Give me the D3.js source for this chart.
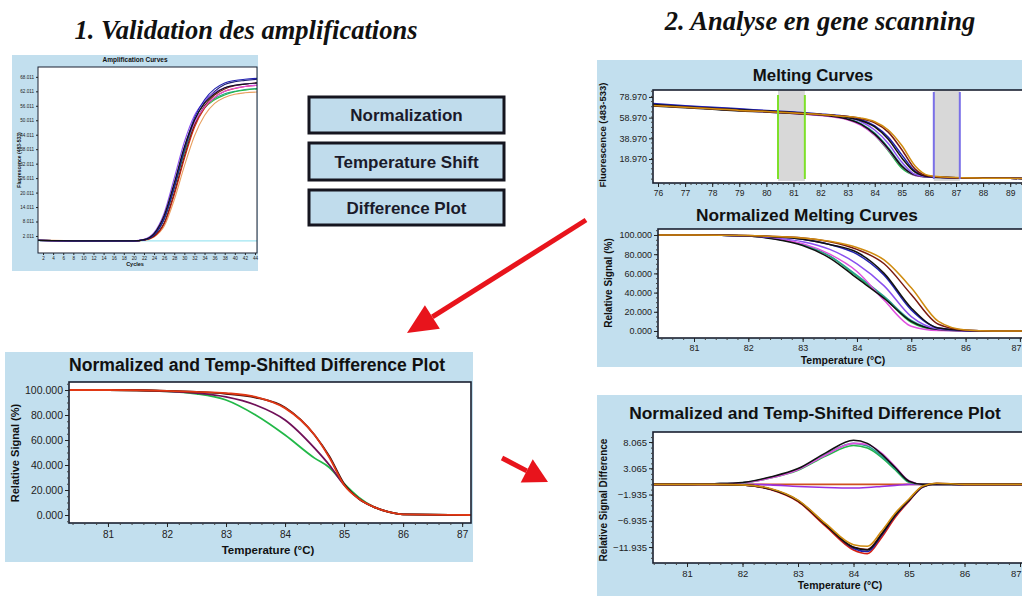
<!DOCTYPE html>
<html><head><meta charset="utf-8">
<script src="https://cdn.jsdelivr.net/npm/d3@7"></script>
<style>
body{margin:0;background:#fff}
svg{display:block}
text{font-family:"Liberation Sans",Arial,sans-serif}
</style>
</head><body>
<svg id="c" width="1022" height="596"></svg>
<script>
// ---------------- DATA ----------------
// 1. Amplification curves
const ampCycles = [1, 10, 20, 22, 24, 26, 28, 30, 32, 34, 36, 38, 40, 42, 44.4];
const ampBlack   = [0.2, 0, 0, 0.5, 3.0, 10.5, 24, 39, 50, 57, 61, 63.5, 64.5, 65, 65.5];
const ampBlue    = [0.2, 0, 0, 0.4, 2.6, 9.5, 23, 38.5, 51, 58.5, 63, 65.5, 66.5, 67, 67.4];
const ampNavy    = [0.2, 0, 0, 0.4, 2.4, 9.0, 22, 37.5, 50, 57.5, 62, 64.8, 66, 66.5, 67];
const ampPurple  = [0.2, 0, 0, 0.6, 3.4, 11.5, 26, 41, 52, 58, 61.5, 63.5, 64.5, 65, 65.3];
const ampBrown   = [0.2, 0, 0, 0.3, 2.0, 7.5, 20, 35, 48, 56, 60.5, 63, 64.3, 65, 65.5];
const ampRed     = [0.2, 0, 0, 0.3, 1.8, 7.0, 19, 34, 47, 55, 59.5, 62, 63.2, 64, 64.5];
const ampGreen   = [0.2, 0, 0, 0.4, 2.5, 9.0, 22, 36.5, 48, 55, 58.5, 60.5, 61.8, 62.5, 63];
const ampTeal    = [0.2, 0, 0, 0.4, 2.6, 9.2, 22.5, 37, 48.5, 55.5, 59, 61, 62, 62.8, 63.2];
const ampOrange  = [0.3, 0, 0, 0.2, 1.6, 6.0, 17, 31, 43.5, 52, 57, 59.5, 60.8, 61.4, 61.7];
const ampMagenta = [0.2, 0, 0, 0.5, 3.0, 10, 23.5, 38, 49, 55.5, 59.5, 62, 63.3, 64, 64.5];
const ampThreshold = 0;
const ampXTicks = [2,4,6,8,10,12,14,16,18,20,22,24,26,28,30,32,34,36,38,40,42,44];
const ampYTicks = [2.011, 8.011, 14.011, 20.011, 26.011, 32.011, 38.011, 44.011, 50.011, 56.011, 62.011, 68.011];

// 2a. Melting curves (fluorescence 483-533)
const meltTemps = [75.6, 77, 78, 79, 80, 81, 82, 82.5, 83, 83.5, 84, 84.5, 85, 85.5, 86, 87, 88, 89, 90.2];
const meltBlack   = [72, 69.5, 68, 66.5, 65.5, 64, 62, 61, 59, 56, 50, 38, 20, 6, 2, 0.8, 0.5, 0.3, 0.2];
const meltBlue    = [73, 70.5, 69, 67.5, 66, 64.5, 62.5, 61.5, 60, 57, 51, 40, 23, 7, 2, 0.8, 0.5, 0.3, 0.2];
const meltDarkRed = [71, 69, 67.5, 66, 65, 63.5, 62, 61, 60, 58, 54, 45, 28, 9, 2.5, 0.8, 0.5, 0.3, 0.2];
const meltOrange  = [71, 69, 67.5, 66, 65, 63.5, 62, 61, 60, 58.5, 55, 47, 32, 12, 3, 1, 0.5, 0.3, 0.2];
const meltGreen   = [71.5, 69.5, 68, 66.5, 65, 63.5, 61.5, 60, 57.5, 52, 42, 27, 10, 3, 1.5, 0.8, 0.5, 0.3, 0.2];
const meltMagenta = [71, 69, 67.5, 66, 64.5, 63, 61, 59.5, 57, 51.5, 42, 28, 12, 3, 1.5, 0.8, 0.5, 0.3, 0.2];
const meltViolet  = [72, 70, 68.5, 67, 65.5, 64, 62, 61, 59, 55, 47, 34, 16, 4, 1.8, 0.8, 0.5, 0.3, 0.2];
const meltTeal    = [71.5, 69.5, 68, 66.5, 65, 63.5, 61.5, 60.5, 58, 53, 44, 30, 13, 3.5, 1.5, 0.8, 0.5, 0.3, 0.2];
const meltBlack2  = [70.5, 68.5, 67, 65.5, 64.5, 63, 61.5, 60, 57.5, 52.5, 43, 29, 12, 3.5, 1.5, 0.8, 0.5, 0.3, 0.2];
const meltXTicks = [76,77,78,79,80,81,82,83,84,85,86,87,88,89];
const meltYTicks = [18.97, 38.97, 58.97, 78.97];
const preMeltRegion  = [80.43, 81.42];
const postMeltRegion = [86.18, 87.14];

// 2b. Normalized melting curves (relative signal %)
const normTemps = [80.3, 81, 82, 82.5, 83, 83.5, 84, 84.5, 85, 85.5, 86, 86.5, 87.4];
const normOrange  = [100, 100, 99.5, 98.5, 97, 93.5, 87, 74, 45, 10, 1, 0, 0];
const normBrown   = [100, 100, 99.5, 98.5, 97, 93, 85, 70, 38, 7, 0.8, 0, 0];
const normBlue    = [100, 100, 99.3, 98, 95.5, 90, 80, 58, 22, 3, 0.5, 0, 0];
const normBlack   = [100, 100, 99.3, 98, 95.5, 90, 82, 60, 24, 3, 0.5, 0, 0];
const normViolet  = [100, 100, 99, 97, 93, 85, 70, 47, 15, 2, 0.3, 0, 0];
const normMagenta = [100, 100, 99, 96, 91, 80, 62, 32, 5, 0.5, 0, 0, 0];
const normGreen   = [100, 100, 99, 96, 90, 78, 57, 35, 9, 1, 0.2, 0, 0];
const normBlack2  = [100, 100, 99, 95.5, 89, 76, 55, 34, 10, 1.5, 0.3, 0, 0];
const normTeal    = [100, 100, 99, 96, 90, 78, 58, 36, 11, 1.5, 0.3, 0, 0];
const relXTicks = [81,82,83,84,85,86,87];
const relYTicks = [0, 20, 40, 60, 80, 100];

// 3. Normalized and temp-shifted curves (lower left)
const shiftTemps = [80.3, 81, 82, 82.5, 83, 83.5, 84, 84.5, 84.75, 85, 85.25, 85.5, 85.75, 86, 87.2];
const shiftGreen   = [100, 100, 99, 97, 92, 80, 64, 45.5, 38, 25, 14, 6.5, 2.5, 0.5, 0];
const shiftPurple  = [100, 100, 99, 97.5, 94.5, 88, 76, 53.5, 40, 24, 13, 6.5, 2.5, 0.5, 0];
const shiftDarkRed = [100, 100, 99.3, 98.5, 97, 94, 86, 64, 47, 25, 13, 6.5, 2.5, 0.5, 0];
const shiftRed     = [100, 100, 99.3, 98.5, 97.5, 94.5, 85.5, 64, 46, 24, 13, 6.5, 2.5, 0.5, 0];

// 4. Difference plot (lower right)
const diffTemps = [80.4, 81, 81.5, 82, 82.5, 83, 83.5, 84, 84.25, 84.5, 84.75, 85, 85.25, 85.5, 86, 87.4];
const diffGreen   = [0, 0, 0.1, 0.3, 1.2, 2.7, 5.4, 7.4, 6.9, 5.2, 2.8, 0.4, 0, 0, 0, 0];
const diffTeal    = [0, 0, 0.1, 0.3, 1.3, 2.9, 5.7, 7.8, 7.3, 5.4, 3.0, 0.5, 0, 0, 0, 0];
const diffBlackUp = [0, 0, 0.1, 0.35, 1.4, 3.0, 6.0, 8.4, 7.8, 5.8, 3.2, 0.6, 0, 0, 0, 0];
const diffMagenta = [0, 0, 0.1, 0.3, 1.2, 2.8, 5.6, 7.8, 7.6, 6.0, 3.4, 0.7, 0, 0, 0, 0];
const diffPurple  = [0, 0, 0, 0, -0.1, -0.4, -0.6, -0.7, -0.6, -0.4, -0.2, 0, 0, 0, 0, 0];
const diffOrange  = [0, 0, 0, -0.1, -0.8, -3.0, -7.5, -11.5, -11.8, -9.0, -5.5, -2.8, -0.3, 0.2, 0, 0];
const diffBrown   = [0, 0, 0, -0.1, -0.9, -3.2, -7.8, -12.0, -12.4, -9.5, -5.8, -3.0, -0.4, 0.2, 0, 0];
const diffBlue    = [0, 0, 0, -0.1, -0.9, -3.1, -7.7, -12.2, -12.8, -9.8, -6.0, -3.1, -0.5, 0.1, 0, 0];
const diffRed     = [0, 0, 0, -0.1, -1.0, -3.3, -8.0, -12.5, -13.2, -10.2, -6.3, -3.2, -0.5, 0.1, 0, 0];
const diffBlackDn = [0, 0, 0, -0.1, -0.9, -3.1, -7.7, -12.0, -12.5, -9.6, -5.9, -3.0, -0.4, 0.1, 0, 0];
const diffRef     = [0, 0, 0, 0, 0, 0, 0, 0, 0, 0, 0, 0, 0, 0, 0, 0];
const diffYTicks = [-11.935, -6.935, -1.935, 3.065, 8.065];

const stepLabels = ["Normalization", "Temperature Shift", "Difference Plot"];

// ---------------- DRAWING ----------------
const W = 1022;
const svg = d3.select("#c");
const PANEL = "#c2dfee";
const C = {black:"#111111", blue:"#2020b0", navy:"#1c1c70", purple:"#80209a", brown:"#7a1a10",
  red:"#d82010", green:"#22b848", teal:"#2aa090", orange:"#d08c10", magenta:"#e050e0", violet:"#8a50f0",
  darkred:"#3a0c0c"};
let clipId = 0;

function chart(o){
  const g = svg.append("g");
  const x = d3.scaleLinear().domain(o.xd).range([o.l, o.r]);
  const y = d3.scaleLinear().domain(o.yd).range([o.b, o.t]);
  g.append("rect").attr("x", o.l).attr("y", o.t).attr("width", o.r - o.l).attr("height", o.b - o.t)
    .attr("fill", "#fff");
  const id = "clip" + (clipId++);
  g.append("clipPath").attr("id", id).append("rect")
    .attr("x", o.l).attr("y", o.t).attr("width", o.r - o.l).attr("height", o.b - o.t);
  const inner = g.append("g").attr("clip-path", `url(#${id})`);
  if (o.under) o.under(inner, x, y);
  const line = d3.line().curve(d3.curveMonotoneX);
  o.series.forEach(s => {
    inner.append("path")
      .attr("d", line(o.xs.map((t, i) => [x(t), y(s.v[i])])))
      .attr("fill", "none").attr("stroke", s.c).attr("stroke-width", o.sw || 1.6)
      .attr("stroke-linejoin", "round");
  });
  if (o.over) o.over(inner, x, y);
  g.append("rect").attr("x", o.l).attr("y", o.t).attr("width", o.r - o.l).attr("height", o.b - o.t)
    .attr("fill", "none").attr("stroke", "#1a2030").attr("stroke-width", o.bw || 1.6);
  if (o.minor !== false) {
    g.append("g").attr("transform", `translate(${o.l},0)`)
      .call(d3.axisLeft(y).ticks(o.minorY || 30).tickSize(2).tickFormat(""))
      .call(a => a.select(".domain").remove())
      .selectAll("line").attr("stroke", "#444");
    g.append("g").attr("transform", `translate(0,${o.b})`)
      .call(d3.axisBottom(x).ticks(o.minorX || 40).tickSize(2).tickFormat(""))
      .call(a => a.select(".domain").remove())
      .selectAll("line").attr("stroke", "#444");
  }
  const ya = g.append("g").attr("transform", `translate(${o.l},0)`)
    .call(d3.axisLeft(y).tickValues(o.yt).tickFormat(o.yf).tickSize(o.ts || 4).tickPadding(2));
  ya.select(".domain").remove();
  ya.selectAll("line").attr("stroke", "#222");
  ya.selectAll("text").attr("font-size", o.yfs).attr("fill", "#222")
    .attr("font-family", '"Liberation Sans",Arial,sans-serif');
  const xa = g.append("g").attr("transform", `translate(0,${o.b})`)
    .call(d3.axisBottom(x).tickValues(o.xt).tickFormat(o.xf || d3.format("d")).tickSize(o.ts || 4).tickPadding(o.xpad || 3));
  xa.select(".domain").remove();
  xa.selectAll("line").attr("stroke", "#222");
  xa.selectAll("text").attr("font-size", o.xfs).attr("fill", "#222")
    .attr("font-family", '"Liberation Sans",Arial,sans-serif')
    .attr("text-anchor", d => (x(d) + 7 > W ? "end" : "middle"))
    .attr("dx", d => (x(d) + 7 > W ? (W - 1 - x(d)) : 0));
  if (o.title) svg.append("text").attr("x", o.title[1]).attr("y", o.title[2]).attr("text-anchor", "middle")
    .attr("font-weight", "bold").attr("font-size", o.title[3]).attr("fill", "#111").text(o.title[0]);
  if (o.xl) svg.append("text").attr("x", o.xl[1]).attr("y", o.xl[2]).attr("text-anchor", "middle")
    .attr("font-weight", "bold").attr("font-size", o.xl[3]).attr("fill", "#111").text(o.xl[0]);
  if (o.yl) svg.append("text").attr("transform", `translate(${o.yl[1]},${o.yl[2]}) rotate(-90)`)
    .attr("text-anchor", "middle").attr("font-weight", "bold").attr("font-size", o.yl[3])
    .attr("fill", "#111").text(o.yl[0]);
  return {x, y};
}

// panels (background)
svg.append("rect").attr("x", 12).attr("y", 55).attr("width", 246).attr("height", 216).attr("fill", PANEL);
svg.append("rect").attr("x", 597).attr("y", 60).attr("width", 440).attr("height", 307).attr("fill", PANEL);
svg.append("rect").attr("x", 5).attr("y", 352).attr("width", 468).attr("height", 210).attr("fill", PANEL);
svg.append("rect").attr("x", 597).attr("y", 395).attr("width", 440).attr("height", 210).attr("fill", PANEL);

// main headings
svg.append("text").attr("x", 246).attr("y", 39).attr("text-anchor", "middle")
  .style("font-family", '"Liberation Serif","Times New Roman",serif').attr("font-style", "italic")
  .attr("font-weight", "bold").attr("font-size", 26.5).attr("fill", "#111").text("1. Validation des amplifications");
svg.append("text").attr("x", 820).attr("y", 30).attr("text-anchor", "middle")
  .style("font-family", '"Liberation Serif","Times New Roman",serif').attr("font-style", "italic")
  .attr("font-weight", "bold").attr("font-size", 26.5).attr("fill", "#111").text("2. Analyse en gene scanning");

// 1. Amplification chart
chart({
  l: 38, r: 257, t: 67, b: 253, xd: [1, 44.4], yd: [-5.05, 72.1],
  xs: ampCycles, sw: 1.1, bw: 1, ts: 2, minor: false,
  series: [
    {v: ampOrange, c: "#e8a060"}, {v: ampTeal, c: C.teal}, {v: ampGreen, c: C.green},
    {v: ampRed, c: C.red}, {v: ampBrown, c: C.brown}, {v: ampMagenta, c: C.magenta},
    {v: ampNavy, c: C.navy}, {v: ampPurple, c: C.violet}, {v: ampBlue, c: C.blue}, {v: ampBlack, c: C.black}
  ],
  under: (g, x, y) => g.append("line").attr("x1", x(1)).attr("x2", x(44.4))
    .attr("y1", y(ampThreshold)).attr("y2", y(ampThreshold)).attr("stroke", "#9fe6f2").attr("stroke-width", 1.2),
  yt: ampYTicks, yf: d3.format(".3f"), yfs: 4.6,
  xt: ampXTicks, xf: d3.format("d"), xfs: 4.6, xpad: 2,
  title: ["Amplification Curves", 135, 62, 6.5],
  xl: ["Cycles", 135, 266, 5.5],
  yl: ["Fluorescence (483-533)", 21, 160, 5]
});

// step boxes
const boxY = [97, 143, 190];
const boxH = [36, 37, 35];
stepLabels.forEach((s, i) => {
  svg.append("rect").attr("x", 309).attr("y", boxY[i]).attr("width", 195).attr("height", boxH[i])
    .attr("fill", "#c0dcec").attr("stroke", "#15151f").attr("stroke-width", 3);
  svg.append("text").attr("x", 406.5).attr("y", boxY[i] + boxH[i] / 2 + 6).attr("text-anchor", "middle")
    .attr("font-weight", "bold").attr("font-size", 17).attr("fill", "#1a1a2a").text(s);
});

// 2a. Melting curves
chart({
  l: 653, r: 1040, t: 90, b: 183, xd: [75.815, 90.1], yd: [-4.2, 85.7],
  xs: meltTemps, sw: 1.5,
  under: (g, x, y) => {
    [preMeltRegion, postMeltRegion].forEach(r => {
      g.append("rect").attr("x", x(r[0])).attr("y", 90).attr("width", x(r[1]) - x(r[0])).attr("height", 91)
        .attr("fill", "#d8d8d8");
    });
  },
  over: (g, x, y) => {
    preMeltRegion.forEach(t => g.append("line").attr("x1", x(t)).attr("x2", x(t)).attr("y1", 95).attr("y2", 179)
      .attr("stroke", "#7ee02a").attr("stroke-width", 2));
    postMeltRegion.forEach(t => g.append("line").attr("x1", x(t)).attr("x2", x(t)).attr("y1", 92).attr("y2", 179)
      .attr("stroke", "#7a70e8").attr("stroke-width", 2));
  },
  series: [
    {v: meltGreen, c: C.green}, {v: meltTeal, c: C.teal}, {v: meltMagenta, c: C.magenta},
    {v: meltBlack2, c: C.black}, {v: meltViolet, c: C.violet}, {v: meltBlue, c: C.blue},
    {v: meltBlack, c: C.black}, {v: meltDarkRed, c: C.brown}, {v: meltOrange, c: C.orange}
  ],
  yt: meltYTicks, yf: d3.format(".3f"), yfs: 9,
  xt: meltXTicks, xfs: 8.5, xpad: 3, minorY: 20, minorX: 60,
  title: ["Melting Curves", 813, 81, 16.8],
  yl: ["Fluorescence (483-533)", 606, 135, 9.5]
});

// 2b. Normalized melting curves
chart({
  l: 658, r: 1040, t: 229, b: 338, xd: [80.337, 87.37], yd: [-7.3, 106.25],
  xs: normTemps, sw: 1.5,
  series: [
    {v: normGreen, c: C.green}, {v: normTeal, c: C.teal}, {v: normMagenta, c: C.magenta},
    {v: normBlack2, c: C.black}, {v: normViolet, c: C.violet}, {v: normBlue, c: C.blue},
    {v: normBlack, c: C.black}, {v: normBrown, c: C.brown}, {v: normOrange, c: C.orange}
  ],
  yt: relYTicks, yf: d3.format(".3f"), yfs: 9,
  xt: relXTicks, xfs: 9, xpad: 3, minorY: 25, minorX: 35,
  title: ["Normalized Melting Curves", 807, 221, 17.3],
  xl: ["Temperature (°C)", 843, 364, 10.5],
  yl: ["Relative Signal (%)", 612, 283, 10]
});

// 3. Normalized and temp-shifted (lower left)
chart({
  l: 69, r: 471, t: 382, b: 523, xd: [80.34, 87.15], yd: [-6.4, 106.4],
  xs: shiftTemps, sw: 1.8,
  series: [
    {v: shiftGreen, c: C.green}, {v: shiftPurple, c: "#701058"},
    {v: shiftDarkRed, c: C.darkred}, {v: shiftRed, c: "#e03814"}
  ],
  yt: relYTicks, yf: d3.format(".3f"), yfs: 10.5,
  xt: relXTicks, xfs: 10, xpad: 4, minorY: 25, minorX: 35,
  title: ["Normalized and Temp-Shifted Difference Plot", 257, 371, 17.6],
  xl: ["Temperature (°C)", 268, 554, 11.5],
  yl: ["Relative Signal (%)", 19, 453, 11]
});

// 4. Difference plot (lower right)
chart({
  l: 653, r: 1040, t: 432, b: 563, xd: [80.387, 87.36], yd: [-14.98, 9.97],
  xs: diffTemps, sw: 1.6,
  series: [
    {v: diffRef, c: "#d05020"}, {v: diffPurple, c: "#9a30e0"},
    {v: diffGreen, c: C.green}, {v: diffTeal, c: C.teal}, {v: diffMagenta, c: C.magenta}, {v: diffBlackUp, c: C.black},
    {v: diffRed, c: C.red}, {v: diffBlue, c: C.blue}, {v: diffBrown, c: C.brown},
    {v: diffBlackDn, c: C.black}, {v: diffOrange, c: C.orange}
  ],
  yt: diffYTicks, yf: d3.format(".3f"), yfs: 9.5,
  xt: relXTicks, xfs: 9.5, xpad: 3, minorY: 25, minorX: 35,
  title: ["Normalized and Temp-Shifted Difference Plot", 815, 419, 17.4],
  xl: ["Temperature (°C)", 840, 589, 10.5],
  yl: ["Relative Signal Difference", 607, 500, 10]
});

// red arrows
function arrow(x1, y1, x2, y2, shaftW, headL, headW){
  const a = Math.atan2(y2 - y1, x2 - x1);
  const bx = x2 - headL * Math.cos(a), by = y2 - headL * Math.sin(a);
  const px = -Math.sin(a), py = Math.cos(a);
  svg.append("line").attr("x1", x1).attr("y1", y1).attr("x2", bx).attr("y2", by)
    .attr("stroke", "#e8141c").attr("stroke-width", shaftW);
  svg.append("path").attr("d", `M${x2},${y2}L${bx + px * headW / 2},${by + py * headW / 2}L${bx - px * headW / 2},${by - py * headW / 2}Z`)
    .attr("fill", "#e8141c");
}
arrow(586, 220, 407, 333, 5, 30, 28);
arrow(502, 458, 548, 482, 5, 24, 26);
</script>
</body></html>
